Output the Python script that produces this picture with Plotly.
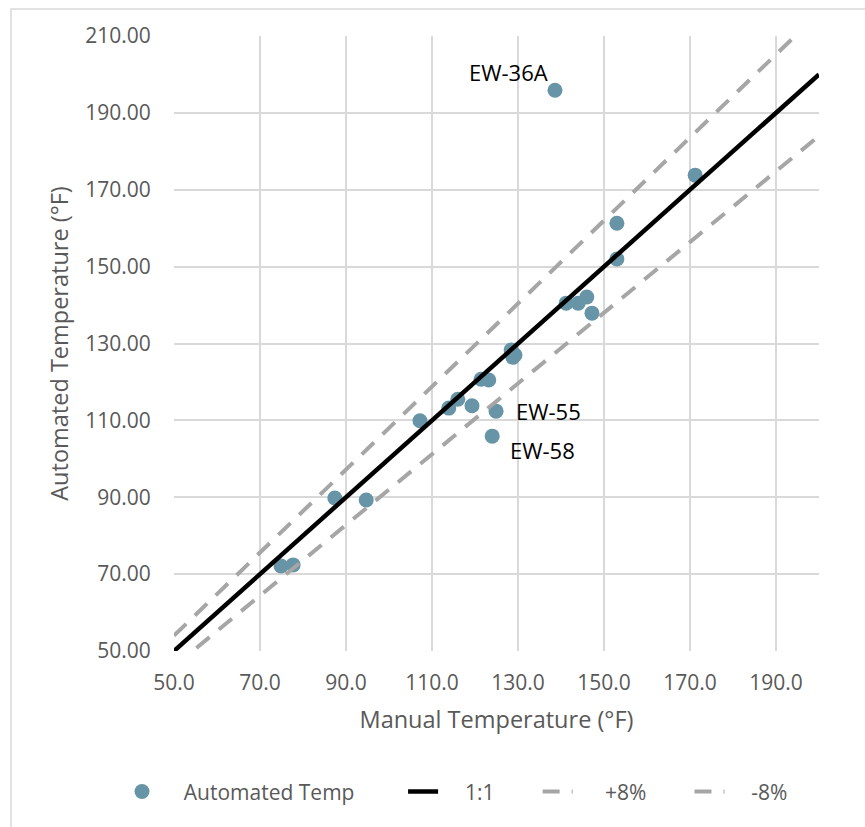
import plotly.graph_objects as go

# Data
manual_temp = [74.9, 77.7, 87.4, 94.7, 107.2, 113.9, 116.0, 119.3, 121.4, 123.2,
               124.9, 124.0, 128.4, 129.3, 128.8, 138.6, 141.2, 144.0, 146.0, 147.2,
               153.0, 153.0, 171.2]
automated_temp = [72.1, 72.4, 89.8, 89.3, 109.9, 113.2, 115.5, 113.8, 120.7, 120.5,
                  112.4, 105.9, 128.3, 127.0, 126.4, 195.9, 140.5, 140.5, 142.1, 137.9,
                  161.3, 152.0, 173.8]
ref_x = [50, 200]
ratio_one = 1.00
ratio_plus = 1.08
ratio_minus = 0.92
x_ticks = [50, 70, 90, 110, 130, 150, 170, 190]
y_ticks = [50, 70, 90, 110, 130, 150, 170, 190, 210]
labels = [("EW-36A", 138.6, 195.9), ("EW-55", 124.9, 112.4), ("EW-58", 124.0, 105.9)]
series_names = ["Automated Temp", "1:1", "+8%", "-8%"]

FONT = "Open Sans"
GRAY = "#595959"
NB = "\u00a0"


def pad(text, lead, trail):
    return NB * lead + text + NB * trail


fig = go.Figure()
fig.add_trace(go.Scatter(x=manual_temp, y=automated_temp, mode="markers",
                         name=pad(series_names[0], 4, 8),
                         marker=dict(color="#6794A6", size=15, line=dict(width=0))))
fig.add_trace(go.Scatter(x=ref_x, y=[v * ratio_one for v in ref_x], mode="lines",
                         name=pad(series_names[1], 4, 7),
                         line=dict(color="black", width=4.5)))
fig.add_trace(go.Scatter(x=ref_x, y=[v * ratio_plus for v in ref_x], mode="lines",
                         name=pad(series_names[2], 5, 7),
                         line=dict(color="#A6A6A6", width=4, dash="17px,12px")))
fig.add_trace(go.Scatter(x=ref_x, y=[v * ratio_minus for v in ref_x], mode="lines",
                         name=pad(series_names[3], 4, 0),
                         line=dict(color="#A6A6A6", width=4, dash="17px,12px")))

# label offsets (pixels) relative to each labelled point
offsets = {"EW-36A": (-46, 18), "EW-55": (52, 0), "EW-58": (50, -14)}
for name, lx, ly in labels:
    dx, dy = offsets[name]
    fig.add_annotation(x=lx, y=ly, text=name, showarrow=False, xshift=dx, yshift=dy,
                       font=dict(family=FONT, size=22, color="black"))

# outer chart frame
fig.add_shape(type="rect", xref="paper", yref="paper", x0=-0.2527, x1=1.1, y0=-0.3, y1=1.0440,
              line=dict(color="#D9D9D9", width=1.5), fillcolor="rgba(0,0,0,0)", layer="below")

fig.update_layout(
    width=865, height=827,
    margin=dict(l=174, r=46, t=36, b=176),
    plot_bgcolor="white", paper_bgcolor="white",
    font=dict(family=FONT, color=GRAY, size=21),
    showlegend=True,
    legend=dict(orientation="h", x=(122 - 174) / 645, xanchor="left", y=-0.229, yanchor="middle",
                font=dict(family=FONT, size=21, color=GRAY), bgcolor="rgba(0,0,0,0)"),
    xaxis=dict(range=[50, 200], tickvals=x_ticks, ticktext=[f"{v:.1f}" for v in x_ticks],
               showgrid=True, gridcolor="#D9D9D9", gridwidth=1.5, zeroline=False,
               ticks="outside", ticklen=13, tickcolor="rgba(0,0,0,0)",
               tickfont=dict(family=FONT, size=21, color=GRAY),
               title=dict(text="Manual Temperature (°F)", font=dict(family=FONT, size=23.5, color=GRAY),
                          standoff=16),
               showline=False, automargin=False),
    yaxis=dict(range=[50, 210], tickvals=y_ticks, ticktext=[f"{v:.2f}" for v in y_ticks],
               showgrid=True, gridcolor="#D9D9D9", gridwidth=1.5, zeroline=False,
               ticks="outside", ticklen=18, tickcolor="rgba(0,0,0,0)",
               tickfont=dict(family=FONT, size=21, color=GRAY),
               title=dict(text="Automated Temperature (°F)", font=dict(family=FONT, size=23.5, color=GRAY),
                          standoff=10),
               showline=False, automargin=False),
)

fig.write_html("out.html")
